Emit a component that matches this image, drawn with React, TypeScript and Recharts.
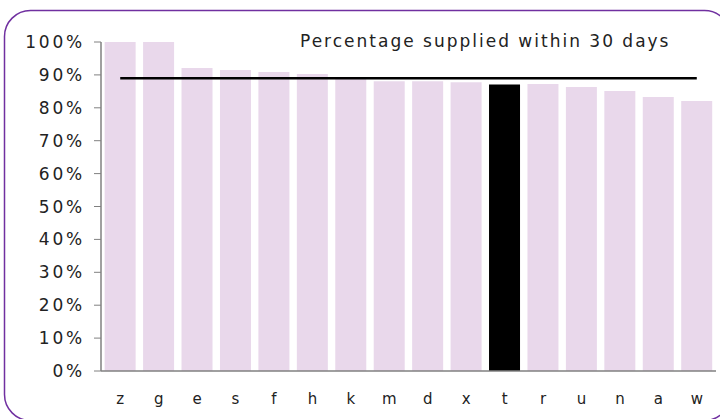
import { ComposedChart, Bar, Line, XAxis, YAxis, Cell } from "recharts";

const categories = ["z", "g", "e", "s", "f", "h", "k", "m", "d", "x", "t", "r", "u", "n", "a", "w"];
const supplied = [1.0, 1.0, 0.921, 0.915, 0.909, 0.903, 0.893, 0.881, 0.881, 0.878, 0.871, 0.872, 0.863, 0.851, 0.833, 0.821];
const target = [0.89, 0.89, 0.89, 0.89, 0.89, 0.89, 0.89, 0.89, 0.89, 0.89, 0.89, 0.89, 0.89, 0.89, 0.89, 0.89];
const yTicks = [0, 0.1, 0.2, 0.3, 0.4, 0.5, 0.6, 0.7, 0.8, 0.9, 1.0];
const highlight = "t";

const data = categories.map((name, i) => ({ name, supplied: supplied[i], target: target[i] }));

const FONT = "'DejaVu Sans', sans-serif";

export default function App() {
  return (
    <div style={{ position: "fixed", left: 0, top: 0, width: 720, height: 419, overflow: "hidden", background: "#fff" }}>
      <svg width={720} height={419} style={{ position: "absolute", left: 0, top: 0 }}>
        <rect x={4.5} y={10.5} width={726} height={410} rx={26} ry={26} fill="none" stroke="#7030a0" strokeWidth={1.5} />
      </svg>
      <div
        style={{
          position: "absolute",
          left: 300,
          top: 31,
          fontFamily: FONT,
          fontSize: 17,
          letterSpacing: 2,
          color: "#222",
          whiteSpace: "nowrap",
        }}
      >
        Percentage supplied within 30 days
      </div>
      <div style={{ position: "absolute", left: 0, top: 0 }}>
        <ComposedChart
          width={720}
          height={419}
          data={data}
          margin={{ top: 42, right: 4, bottom: 0, left: 0 }}
          barCategoryGap="9.5%"
        >
          <XAxis
            dataKey="name"
            height={48}
            tickLine={false}
            axisLine={{ stroke: "#808080", strokeWidth: 1.5 }}
            tick={{ fill: "#222", fontSize: 15, fontFamily: FONT }}
            tickMargin={16}
            interval={0}
          />
          <YAxis
            width={101}
            domain={[0, 1]}
            ticks={yTicks}
            interval={0}
            tickFormatter={(v: number) => `${Math.round(v * 100)}%`}
            axisLine={{ stroke: "#808080", strokeWidth: 1.5 }}
            tickLine={{ stroke: "#808080" }}
            tickSize={7}
            tickMargin={9}
            tick={{ fill: "#222", fontSize: 17, fontFamily: FONT, letterSpacing: 2.8 }}
          />
          <Bar dataKey="supplied" isAnimationActive={false}>
            {data.map((d) => (
              <Cell key={d.name} fill={d.name === highlight ? "#000000" : "#e9d8eb"} />
            ))}
          </Bar>
          <Line
            dataKey="target"
            stroke="#000"
            strokeWidth={2.5}
            dot={false}
            activeDot={false}
            isAnimationActive={false}
          />
        </ComposedChart>
      </div>
    </div>
  );
}
